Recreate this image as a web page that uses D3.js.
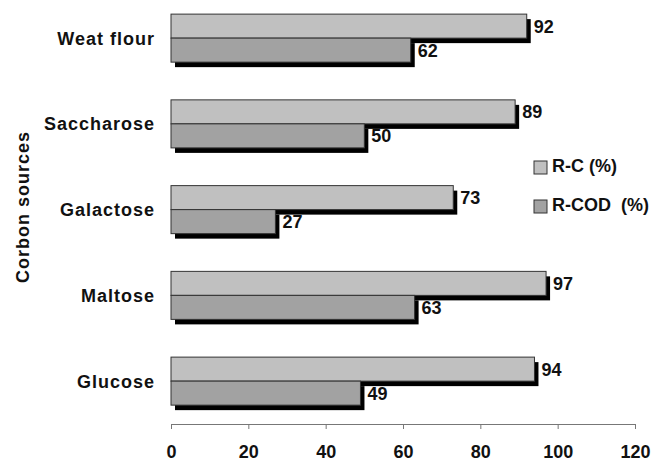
<!DOCTYPE html>
<html>
<head>
<meta charset="utf-8">
<script src="https://cdn.jsdelivr.net/npm/d3@7"></script>
<style>
  body { margin: 0; background: #fff; }
  text { font-family: Arial, "Liberation Sans", sans-serif; font-weight: bold; fill: #111; }
</style>
</head>
<body>
<div id="chart"></div>
<script>
var categories = ["Weat flour", "Saccharose", "Galactose", "Maltose", "Glucose"];
var rc = [92, 89, 73, 97, 94];
var rcod = [62, 50, 27, 63, 49];
var seriesNames = ["R-C (%)", "R-COD  (%)"];
var xTicks = [0, 20, 40, 60, 80, 100, 120];

var width = 666, height = 462;
var colors = ["#c0c0c0", "#a2a2a2"];

var svg = d3.select("#chart").append("svg")
    .attr("width", width)
    .attr("height", height);

var x = d3.scaleLinear()
    .domain([0, 120])
    .range([171, 635]);

var y = d3.scaleBand()
    .domain(categories)
    .range([-4.75, 424])
    .paddingInner(0.44)
    .paddingOuter(0.22);

var barH = y.bandwidth() / 2;
var shadow = 5;

// axis
var axis = svg.append("g")
    .attr("transform", "translate(0,424)")
    .call(d3.axisBottom(x).tickValues(xTicks).tickSize(5).tickFormat(d3.format("d")));
axis.select(".domain").attr("stroke", "#777");
axis.selectAll(".tick line").attr("stroke", "#777");
axis.selectAll(".tick text")
    .attr("y", 34)
    .attr("dy", 0)
    .style("font-size", "18px");

var groups = svg.selectAll(".cat")
    .data(categories)
  .enter().append("g")
    .attr("class", "cat");

// shadows first, then bars on top
[rc, rcod].forEach(function(vals, s) {
  groups.append("rect")
      .attr("x", x(0) + shadow - 1)
      .attr("y", function(d) { return y(d) + s * barH + shadow; })
      .attr("width", function(d, i) { return x(vals[i]) - x(0); })
      .attr("height", barH)
      .attr("fill", "#000");
});
[rc, rcod].forEach(function(vals, s) {
  groups.append("rect")
      .attr("x", x(0))
      .attr("y", function(d) { return y(d) + s * barH; })
      .attr("width", function(d, i) { return x(vals[i]) - x(0); })
      .attr("height", barH)
      .attr("fill", colors[s])
      .attr("stroke", "#333")
      .attr("stroke-width", 1);
  groups.append("text")
      .attr("x", function(d, i) { return x(vals[i]) + shadow + 2; })
      .attr("y", function(d) { return y(d) + s * barH + barH / 2 + 6.5; })
      .style("font-size", "18px")
      .text(function(d, i) { return vals[i]; });
});

// category labels
svg.selectAll(".catlabel")
    .data(categories)
  .enter().append("text")
    .attr("x", 155)
    .attr("y", function(d) { return y(d) + y.bandwidth() / 2 + 6.5; })
    .attr("text-anchor", "end")
    .style("font-size", "18px")
    .style("letter-spacing", "1px")
    .text(function(d) { return d; });

// y title
svg.append("text")
    .attr("transform", "translate(29,207) rotate(-90)")
    .attr("text-anchor", "middle")
    .style("font-size", "18px")
    .style("letter-spacing", "1px")
    .text("Corbon sources");

// legend
var legend = svg.selectAll(".legend")
    .data(seriesNames)
  .enter().append("g")
    .attr("transform", function(d, i) { return "translate(534," + (161 + i * 39) + ")"; });
legend.append("rect")
    .attr("width", 13)
    .attr("height", 13)
    .attr("fill", function(d, i) { return colors[i]; })
    .attr("stroke", "#333");
legend.append("text")
    .attr("x", 18)
    .attr("y", 11)
    .style("font-size", "18px")
    .style("white-space", "pre")
    .attr("xml:space", "preserve")
    .text(function(d) { return d; });
</script>
</body>
</html>
